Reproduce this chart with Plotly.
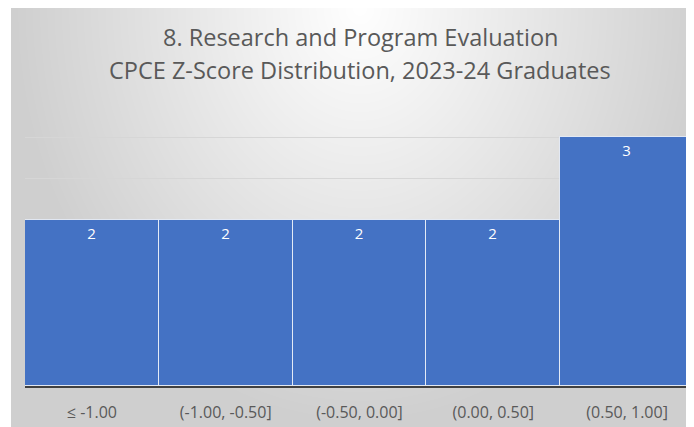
import base64, struct, zlib
import numpy as np
import plotly.graph_objects as go

# ---- data ----
categories = ["≤ -1.00", "(-1.00, -0.50]", "(-0.50, 0.00]", "(0.00, 0.50]", "(0.50, 1.00]"]
counts = [2, 2, 2, 2, 3]
title_line1 = "8. Research and Program Evaluation"
title_line2 = "CPCE Z-Score Distribution, 2023-24 Graduates"

# ---- background gradient image (style only) ----
def gradient_png(w, h):
    u = (np.arange(w) + 0.5) / w
    v = (np.arange(h) + 0.5) / h
    U, V = np.meshgrid(u, v)
    d = np.sqrt(((U - 0.5) / 0.5) ** 2 + (V / 1.0) ** 2)
    d = np.clip(d, 0, 1)
    g = (255 - 48 * d).astype(np.uint8)
    raw = b"".join(b"\x00" + g[i].tobytes() for i in range(h))
    def chunk(t, data):
        c = struct.pack(">I", len(data)) + t + data
        return c + struct.pack(">I", zlib.crc32(t + data) & 0xFFFFFFFF)
    png = b"\x89PNG\r\n\x1a\n"
    png += chunk(b"IHDR", struct.pack(">IIBBBBB", w, h, 8, 0, 0, 0, 0))
    png += chunk(b"IDAT", zlib.compress(raw, 9))
    png += chunk(b"IEND", b"")
    return "data:image/png;base64," + base64.b64encode(png).decode()

# page has an 8px body margin; figure coordinates = page coordinates - 8
OFF = 8
W, H = 694 - OFF, 427 - OFF
ml, mr, mt, mb = 25 - OFF, 0, 96 - OFF, 427 - 386
pw, ph = W - ml - mr, H - mt - mb

def px_x(page_x):
    return (page_x - OFF - ml) / pw

def px_y(page_y):
    return (H - mb - (page_y - OFF)) / ph

fig = go.Figure(
    go.Bar(
        x=categories,
        y=counts,
        marker=dict(color="#4472C4", line=dict(color="rgba(255,255,255,0.75)", width=1)),
        text=counts,
        textposition="inside",
        insidetextanchor="end",
        textfont=dict(color="white", size=15, family="Open Sans"),
        cliponaxis=False,
    )
)

fig.update_layout(
    width=W,
    height=H,
    margin=dict(l=ml, r=mr, t=mt, b=mb),
    paper_bgcolor="white",
    plot_bgcolor="rgba(0,0,0,0)",
    bargap=0,
    showlegend=False,
    font=dict(family="Open Sans", color="#595959"),
    annotations=[
        dict(
            text=title_line1,
            xref="paper", yref="paper",
            x=px_x(360), y=px_y(37),
            xanchor="center", yanchor="middle",
            showarrow=False,
            font=dict(size=23.5, color="#595959", family="Open Sans"),
        ),
        dict(
            text=title_line2,
            xref="paper", yref="paper",
            x=px_x(360), y=px_y(70),
            xanchor="center", yanchor="middle",
            showarrow=False,
            font=dict(size=23.5, color="#595959", family="Open Sans"),
        ),
    ],
    images=[
        dict(
            source=gradient_png(698, 420),
            xref="paper", yref="paper",
            x=px_x(11), y=px_y(7),
            sizex=698 / pw, sizey=420 / ph,
            xanchor="left", yanchor="top",
            sizing="stretch",
            layer="below",
        )
    ],
    xaxis=dict(
        showline=True,
        linecolor="#404040",
        linewidth=2,
        ticks="outside",
        ticklen=11,
        tickcolor="rgba(0,0,0,0)",
        tickfont=dict(size=16, color="#595959", family="Open Sans"),
        showgrid=False,
    ),
    yaxis=dict(
        range=[0, 3.5],
        dtick=0.5,
        showticklabels=False,
        showgrid=True,
        gridcolor="#d6d6d6",
        gridwidth=1,
        zeroline=False,
        showline=False,
    ),
)

fig.write_html("out.html")
